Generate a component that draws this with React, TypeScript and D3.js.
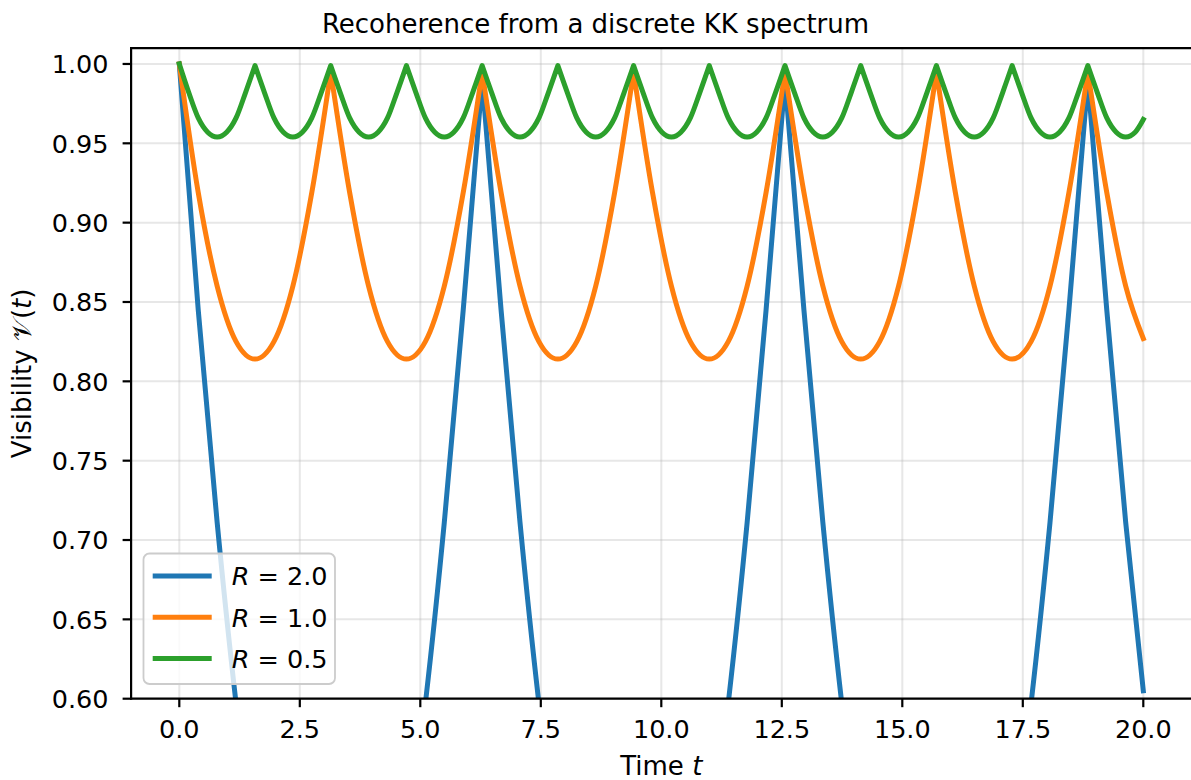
import React, { useEffect, useRef } from 'react';
import * as d3 from 'd3';

const WIDTH = 1191;
const HEIGHT = 780;
const FONT = '"DejaVu Sans", sans-serif';

// traces are sampled on a regular time grid, last point sits at t = 20
const STEP_GREEN = Math.PI / 16;
const STEP_COARSE = Math.PI / 8;
const T_END = 20;

// R = 2.0 (period 2*pi, dips far below the axis)
const visR2 = [
  1.0, 0.845, 0.711, 0.597, 0.504, 0.432, 0.38, 0.349, 0.339, 0.349, 0.38, 0.432, 0.504, 0.597, 0.711, 0.845,
  0.99, 0.845, 0.711, 0.597, 0.504, 0.432, 0.38, 0.349, 0.339, 0.349, 0.38, 0.432, 0.504, 0.597, 0.711, 0.845,
  0.99, 0.845, 0.711, 0.597, 0.504, 0.432, 0.38, 0.349, 0.339, 0.349, 0.38, 0.432, 0.504, 0.597, 0.711, 0.845,
  0.99, 0.845, 0.711,
];
const visR2End = 0.605;

// R = 1.0 (period pi)
const visR1 = [
  1.0, 0.919, 0.86, 0.825, 0.814, 0.825, 0.86, 0.919,
  0.995, 0.919, 0.86, 0.825, 0.814, 0.825, 0.86, 0.919,
  0.995, 0.919, 0.86, 0.825, 0.814, 0.825, 0.86, 0.919,
  0.995, 0.919, 0.86, 0.825, 0.814, 0.825, 0.86, 0.919,
  0.995, 0.919, 0.86, 0.825, 0.814, 0.825, 0.86, 0.919,
  0.995, 0.919, 0.86, 0.825, 0.814, 0.825, 0.86, 0.919,
  0.995, 0.919, 0.86,
];
const visR1End = 0.827;

// R = 0.5 (period pi/2)
const visR05 = [
  1.0, 0.982, 0.966, 0.957, 0.954, 0.957, 0.966, 0.982,
  0.999, 0.982, 0.966, 0.957, 0.954, 0.957, 0.966, 0.982,
  0.999, 0.982, 0.966, 0.957, 0.954, 0.957, 0.966, 0.982,
  0.999, 0.982, 0.966, 0.957, 0.954, 0.957, 0.966, 0.982,
  0.999, 0.982, 0.966, 0.957, 0.954, 0.957, 0.966, 0.982,
  0.999, 0.982, 0.966, 0.957, 0.954, 0.957, 0.966, 0.982,
  0.999, 0.982, 0.966, 0.957, 0.954, 0.957, 0.966, 0.982,
  0.999, 0.982, 0.966, 0.957, 0.954, 0.957, 0.966, 0.982,
  0.999, 0.982, 0.966, 0.957, 0.954, 0.957, 0.966, 0.982,
  0.999, 0.982, 0.966, 0.957, 0.954, 0.957, 0.966, 0.982,
  0.999, 0.982, 0.966, 0.957, 0.954, 0.957, 0.966, 0.982,
  0.999, 0.982, 0.966, 0.957, 0.954, 0.957, 0.966, 0.982,
  0.999, 0.982, 0.966, 0.957, 0.954, 0.957,
];
const visR05End = 0.965;

const xTicks = [0, 2.5, 5, 7.5, 10, 12.5, 15, 17.5, 20];
const yTicks = [0.6, 0.65, 0.7, 0.75, 0.8, 0.85, 0.9, 0.95, 1.0];

const series = [
  { label: '2.0', color: '#1f77b4', step: STEP_COARSE, values: visR2, end: visR2End },
  { label: '1.0', color: '#ff7f0e', step: STEP_COARSE, values: visR1, end: visR1End },
  { label: '0.5', color: '#2ca02c', step: STEP_GREEN, values: visR05, end: visR05End },
];

const LINE_W = 5;

const Chart = () => {
  const ref = useRef<SVGSVGElement>(null);

  useEffect(() => {
    const svg = d3.select(ref.current);
    svg.selectAll('*').remove();

    const x = d3.scaleLinear().domain([-1, 21]).range([131.1, 1191.5]);
    const y = d3.scaleLinear().domain([0.6, 1.01]).range([698.7, 48.1]);
    const [x0, x1] = x.range();
    const [y0, y1] = y.range();

    svg.append('defs').append('clipPath').attr('id', 'plot-clip')
      .append('rect')
      .attr('x', x0).attr('y', y1)
      .attr('width', x1 - x0).attr('height', y0 - y1);

    // grid
    const grid = svg.append('g').attr('stroke', '#b0b0b0').attr('stroke-opacity', 0.3).attr('stroke-width', 2);
    grid.selectAll('.gx').data(xTicks).enter().append('line')
      .attr('x1', d => x(d)).attr('x2', d => x(d))
      .attr('y1', y0).attr('y2', y1);
    grid.selectAll('.gy').data(yTicks).enter().append('line')
      .attr('x1', x0).attr('x2', x1)
      .attr('y1', d => y(d)).attr('y2', d => y(d));

    // curves: split at local maxima so the cusps stay sharp, smooth in between
    const line = d3.line<[number, number]>()
      .x(d => x(d[0]))
      .y(d => y(d[1]))
      .curve(d3.curveMonotoneX);

    const plot = svg.append('g').attr('clip-path', 'url(#plot-clip)');
    series.forEach(s => {
      const pts: [number, number][] = s.values.map((v, i) => [i * s.step, v]);
      pts.push([T_END, s.end]);
      const cuts = [0];
      for (let i = 1; i < pts.length - 1; i++) {
        if (pts[i][1] >= pts[i - 1][1] && pts[i][1] >= pts[i + 1][1]) cuts.push(i);
      }
      cuts.push(pts.length - 1);
      let d = '';
      for (let k = 0; k < cuts.length - 1; k++) {
        const seg = line(pts.slice(cuts[k], cuts[k + 1] + 1)) || '';
        d += k === 0 ? seg : seg.replace(/^M[^A-Za-z]*/, '');
      }
      plot.append('path')
        .attr('d', d)
        .attr('fill', 'none')
        .attr('stroke', s.color)
        .attr('stroke-width', LINE_W)
        .attr('stroke-linejoin', 'round')
        .attr('stroke-linecap', 'square');
    });

    // spines (right one falls outside the picture)
    const spines = svg.append('g').attr('stroke', '#000').attr('stroke-width', 2.2).attr('stroke-linecap', 'square');
    spines.append('line').attr('x1', x0).attr('x2', x0).attr('y1', y0).attr('y2', y1);
    spines.append('line').attr('x1', x0).attr('x2', x1).attr('y1', y0).attr('y2', y0);
    spines.append('line').attr('x1', x0).attr('x2', x1).attr('y1', y1).attr('y2', y1);

    // x ticks
    const xt = svg.append('g');
    xt.selectAll('line').data(xTicks).enter().append('line')
      .attr('x1', d => x(d)).attr('x2', d => x(d))
      .attr('y1', y0).attr('y2', y0 + 8.5)
      .attr('stroke', '#000').attr('stroke-width', 2.2);
    xt.selectAll('text').data(xTicks).enter().append('text')
      .attr('x', d => x(d)).attr('y', 737.7)
      .attr('text-anchor', 'middle')
      .attr('font-family', FONT).attr('font-size', 25.5)
      .text(d => d3.format('.1f')(d));

    // y ticks
    const yt = svg.append('g');
    yt.selectAll('line').data(yTicks).enter().append('line')
      .attr('x1', x0 - 8.5).attr('x2', x0)
      .attr('y1', d => y(d)).attr('y2', d => y(d))
      .attr('stroke', '#000').attr('stroke-width', 2.2);
    yt.selectAll('text').data(yTicks).enter().append('text')
      .attr('x', 108.5).attr('y', d => y(d) + 9.3)
      .attr('text-anchor', 'end')
      .attr('font-family', FONT).attr('font-size', 25.5)
      .text(d => d3.format('.2f')(d));

    // title and axis labels
    svg.append('text')
      .attr('x', WIDTH / 2).attr('y', 33.3)
      .attr('text-anchor', 'middle')
      .attr('font-family', FONT).attr('font-size', 26)
      .text('Recoherence from a discrete KK spectrum');

    const xl = svg.append('text')
      .attr('x', x(10)).attr('y', 775)
      .attr('text-anchor', 'middle')
      .attr('font-family', FONT).attr('font-size', 26);
    xl.append('tspan').text('Time ');
    xl.append('tspan').attr('font-style', 'italic').text('t');

    const yl = svg.append('text')
      .attr('transform', `translate(31,${(y0 + y1) / 2}) rotate(-90)`)
      .attr('text-anchor', 'middle')
      .attr('font-family', FONT).attr('font-size', 26);
    yl.append('tspan').text('Visibility ');
    yl.append('tspan').text('\u{1D4B1}');
    yl.append('tspan').text('(');
    yl.append('tspan').attr('font-style', 'italic').text('t');
    yl.append('tspan').text(')');

    // legend
    const lg = svg.append('g');
    lg.append('rect')
      .attr('x', 143.5).attr('y', 553.5)
      .attr('width', 191.5).attr('height', 130.5)
      .attr('rx', 6)
      .attr('fill', '#fff').attr('fill-opacity', 0.8)
      .attr('stroke', '#cccccc').attr('stroke-width', 1.8);
    series.forEach((s, i) => {
      const ly = 576 + i * 41.2;
      lg.append('line')
        .attr('x1', 152.7).attr('x2', 211.7)
        .attr('y1', ly).attr('y2', ly)
        .attr('stroke', s.color).attr('stroke-width', LINE_W);
      const t = lg.append('text')
        .attr('x', 231.7).attr('y', ly + 9.3)
        .attr('font-family', FONT).attr('font-size', 25.5);
      t.append('tspan').attr('font-style', 'italic').text('R');
      t.append('tspan').text(' = ' + s.label);
    });
  }, []);

  return <svg ref={ref} width={WIDTH} height={HEIGHT} style={{ display: 'block' }} />;
};

export default function App() {
  return (
    <div>
      <style>{'body { margin: 0; background: #fff; }'}</style>
      <Chart />
    </div>
  );
}
